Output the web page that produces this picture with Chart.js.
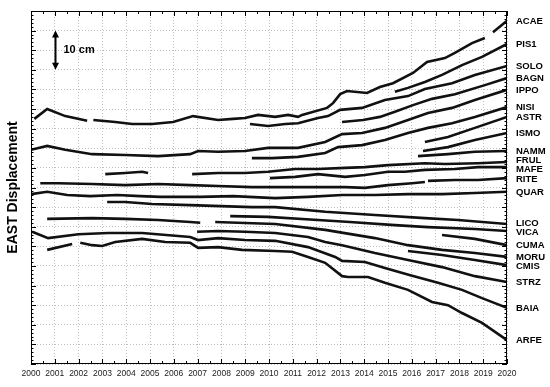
<!DOCTYPE html>
<html>
<head>
<meta charset="utf-8">
<script src="https://cdn.jsdelivr.net/npm/chart.js@4.4.1/dist/chart.umd.min.js"></script>
<style>
  html, body { margin: 0; padding: 0; background: #fff; }
</style>
</head>
<body>
<canvas id="chart" width="550" height="387"></canvas>
<script>
// East displacement time series (cm, stacked with offsets)
// each point is [decimal year, cm]; a null value marks a data gap
const ACAE = [[2000.14,62.5],[2000.68,65.0],[2001.44,63.2],[2002.36,62.0],[2002.45,null],[2002.62,62.2],[2003.54,61.7],[2004.25,61.2],[2005.09,61.2],[2005.97,61.7],[2006.81,63.2],[2007.86,62.2],[2008.49,62.5],[2008.99,62.7],[2009.54,63.5],[2010.26,63.0],[2010.80,63.5],[2011.22,63.0],[2011.39,63.5],[2012.44,65.3],[2012.69,66.5],[2012.99,68.8],[2013.28,69.6],[2014.12,69.1],[2014.66,70.6],[2015.21,71.6],[2016.05,74.2],[2016.64,77.0],[2017.39,78.0],[2017.81,79.3],[2018.53,81.8],[2019.07,83.1],[2019.2,null],[2019.41,84.6],[2020,87.5]]
const PIS1 = [[2015.29,69.4],[2015.84,70.4],[2016.55,71.9],[2017.27,73.7],[2018.11,76.2],[2018.95,78.3],[2020,81.6]]
const SOLO = [[2009.20,61.2],[2009.96,60.7],[2010.68,61.2],[2011.22,61.4],[2012.06,62.7],[2012.48,63.2],[2012.99,64.8],[2013.91,65.3],[2014.87,67.3],[2015.84,68.3],[2016.55,70.1],[2017.69,71.6],[2018.65,73.7],[2020,76.0]]
const BAGN = [[2013.07,61.7],[2013.95,62.2],[2014.66,63.0],[2015.29,64.3],[2016.05,66.0],[2016.85,67.6],[2017.81,68.8],[2019.07,71.1],[2020,72.9]]
const IPPO = [[2000.0,54.6],[2000.68,55.6],[2001.44,54.6],[2002.57,53.5],[2003.96,53.3],[2005.34,53.0],[2006.69,53.5],[2007.02,54.3],[2007.86,54.1],[2008.99,54.3],[2009.96,55.1],[2011.22,55.1],[2012.36,56.6],[2013.07,58.6],[2013.91,58.9],[2014.87,60.2],[2015.84,62.2],[2016.68,64.0],[2017.69,65.3],[2018.65,67.3],[2020,69.9]]
const NISI = [[2009.28,52.5],[2010.13,52.5],[2011.22,52.8],[2012.36,53.8],[2012.90,55.3],[2013.91,55.8],[2014.87,57.1],[2015.84,58.9],[2016.68,60.2],[2017.69,61.4],[2018.65,63.0],[2020,65.5]]
const ASTR = [[2016.55,56.6],[2017.52,57.9],[2018.65,60.2],[2020,63.0]]
const ISMO = [[2016.47,54.3],[2017.52,55.3],[2018.65,57.1],[2020,58.9]]
const NAMM = [[2016.26,53.0],[2017.52,53.5],[2018.65,54.1],[2020,54.3]]
const FRUL = [[2003.12,48.4],[2003.96,48.7],[2004.67,49.0],[2004.92,48.7],[2005.5,null],[2006.77,48.4],[2007.86,48.7],[2008.99,48.7],[2009.96,49.0],[2011.10,49.7],[2012.06,49.7],[2013.20,50.0],[2014.03,50.2],[2015.0,50.7],[2016.55,51.2],[2017.39,51.0],[2018.78,51.2],[2020,51.5]]
const MAFE = [[2010.04,47.4],[2011.10,47.7],[2012.06,48.4],[2013.20,47.7],[2014.03,48.2],[2015.0,49.0],[2015.71,49.0],[2016.55,49.5],[2017.81,49.7],[2018.78,50.2],[2020,50.2]]
const RITE = [[2000.39,46.1],[2001.15,46.1],[2002.57,45.9],[2003.96,45.6],[2005.34,45.9],[2006.69,45.6],[2007.86,45.4],[2009.28,45.1],[2010.68,45.1],[2013.20,45.1],[2014.03,44.9],[2015.0,45.6],[2016.01,46.1],[2016.55,46.4],[2016.6,null],[2016.68,46.7],[2017.81,46.9],[2018.78,46.9],[2020,47.4]]
const QUAR = [[2000,43.3],[2000.68,43.9],[2001.52,43.1],[2002.49,42.8],[2003.62,43.1],[2004.59,42.8],[2005.43,42.6],[2007.11,42.6],[2008.49,42.8],[2010.26,42.3],[2011.64,42.6],[2013.07,43.1],[2014.45,43.1],[2015.84,43.3],[2017.27,43.3],[2018.65,43.6],[2020,43.9]]
const LICO = [[2003.20,41.3],[2003.96,41.3],[2005.09,40.8],[2006.69,40.5],[2009.28,40.0],[2010.26,40.0],[2012.36,38.8],[2014.45,38.0],[2016.55,37.2],[2017.94,36.7],[2020,35.7]]
const VICA = [[2008.37,37.7],[2009.96,37.5],[2012.06,36.7],[2013.40,36.2],[2015.29,35.4],[2016.68,34.9],[2018.65,34.4],[2020,33.9]]
const CUMA = [[2017.27,32.9],[2018.65,31.9],[2020,30.3]]
const MORU = [[2000.68,37.0],[2002.57,37.2],[2003.96,37.0],[2005.34,36.7],[2006.69,36.2],[2007.11,36.0],[2007.4,null],[2007.74,36.2],[2010.26,35.7],[2012.36,34.2],[2014.45,32.1],[2015.84,30.3],[2017.27,29.1],[2018.65,28.3],[2020,27.3]]
const CMIS = [[2015.84,28.8],[2017.27,27.8],[2018.65,26.5],[2020,25.2]]
const STRZ = [[2006.98,33.7],[2007.86,33.9],[2008.99,33.7],[2010.26,33.4],[2011.64,32.4],[2012.36,31.1],[2013.07,30.3],[2014.45,28.3],[2015.84,26.5],[2017.27,24.7],[2018.65,22.4],[2020,20.9]]
const BAIA = [[2000.05,33.7],[2000.72,32.1],[2001.99,33.1],[2003.25,33.4],[2004.67,33.4],[2006.69,32.4],[2007.02,31.6],[2007.86,32.1],[2008.99,31.6],[2010.26,31.4],[2011.64,29.8],[2012.78,27.3],[2013.07,26.3],[2014.03,26.0],[2014.87,24.5],[2015.9,22.7],[2017.10,20.7],[2018.11,18.9],[2018.95,16.8],[2020,14.3]]
const ARFE = [[2000.68,29.1],[2001.73,30.6],[2001.9,null],[2002.07,30.9],[2002.57,30.3],[2002.99,30.1],[2003.54,31.1],[2004.67,31.9],[2005.64,31.1],[2006.69,30.9],[2007.02,29.6],[2007.86,29.8],[2008.87,29.1],[2010.26,28.8],[2010.97,28.6],[2011.64,27.3],[2012.36,25.8],[2013.07,22.4],[2013.32,22.2],[2014.16,22.2],[2014.87,20.7],[2015.84,18.9],[2016.85,15.8],[2017.52,15.0],[2018.11,13.0],[2018.95,10.5],[2020,6.1]]

const stations = ['ACAE', 'PIS1', 'SOLO', 'BAGN', 'IPPO', 'NISI', 'ASTR', 'ISMO', 'NAMM', 'FRUL', 'MAFE',
  'RITE', 'QUAR', 'LICO', 'VICA', 'CUMA', 'MORU', 'CMIS', 'STRZ', 'BAIA', 'ARFE']
const stationSeries = [ACAE, PIS1, SOLO, BAGN, IPPO, NISI, ASTR, ISMO, NAMM, FRUL, MAFE,
  RITE, QUAR, LICO, VICA, CUMA, MORU, CMIS, STRZ, BAIA, ARFE]

const yearTicks = [2000, 2001, 2002, 2003, 2004, 2005, 2006, 2007, 2008, 2009, 2010,
  2011, 2012, 2013, 2014, 2015, 2016, 2017, 2018, 2019, 2020]
const gridCm = [0, 5, 10, 15, 20, 25, 30, 35, 40, 45, 50, 55, 60, 65, 70, 75, 80, 85, 90]
const scaleBarCm = [75, 85]  // the "10 cm" reference arrow
const scaleBarYear = 2001

const FONT = '"Liberation Sans", Arial, sans-serif'

// box with inward major/minor ticks on all four sides
const frame = {
  id: 'frame',
  afterDraw(chart) {
    const { ctx, chartArea: a, scales: { x, y } } = chart
    ctx.save()
    ctx.strokeStyle = '#000'
    ctx.lineWidth = 1
    ctx.strokeRect(a.left + 0.5, a.top + 0.5, a.right - a.left - 1, a.bottom - a.top - 1)
    ctx.beginPath()
    for (let t = x.min; t <= x.max; t += 0.5) {
      const px = Math.round(x.getPixelForValue(t)) + 0.5
      const len = t % 1 === 0 ? 5 : 3
      ctx.moveTo(px, a.bottom); ctx.lineTo(px, a.bottom - len)
      ctx.moveTo(px, a.top); ctx.lineTo(px, a.top + len)
    }
    for (let v = y.min; v <= y.max; v += 1) {
      const py = Math.round(y.getPixelForValue(v)) + 0.5
      const len = v % 5 === 0 ? 5 : 2.5
      ctx.moveTo(a.left, py); ctx.lineTo(a.left + len, py)
      ctx.moveTo(a.right, py); ctx.lineTo(a.right - len, py)
    }
    ctx.stroke()
    ctx.restore()
  }
}

// "10 cm" double arrow
const scaleBar = {
  id: 'scaleBar',
  afterDraw(chart) {
    const { ctx, scales: { x, y } } = chart
    const px = Math.round(x.getPixelForValue(scaleBarYear)) + 0.5
    const top = y.getPixelForValue(scaleBarCm[1])
    const bot = y.getPixelForValue(scaleBarCm[0])
    ctx.save()
    ctx.strokeStyle = '#000'
    ctx.fillStyle = '#000'
    ctx.lineWidth = 2
    ctx.beginPath()
    ctx.moveTo(px, top + 5); ctx.lineTo(px, bot - 5)
    ctx.stroke()
    ctx.beginPath()
    ctx.moveTo(px, top); ctx.lineTo(px - 3.5, top + 7); ctx.lineTo(px + 3.5, top + 7); ctx.closePath()
    ctx.moveTo(px, bot); ctx.lineTo(px - 3.5, bot - 7); ctx.lineTo(px + 3.5, bot - 7); ctx.closePath()
    ctx.fill()
    ctx.font = 'bold 11px ' + FONT
    ctx.textBaseline = 'middle'
    ctx.fillText('10 cm', px + 8, (top + bot) / 2)
    ctx.restore()
  }
}

// station names next to the series ends, nudged apart where they crowd
const stationLabels = {
  id: 'stationLabels',
  afterDraw(chart) {
    const { ctx, chartArea: a, scales: { y } } = chart
    const minGap = 2.35
    const items = chart.data.datasets.map(ds => {
      const pts = ds.data.filter(p => p.y !== null)
      return { text: ds.label, v: pts[pts.length - 1].y }
    }).sort((p, q) => q.v - p.v)
    for (let pass = 0; pass < 40; pass++) {
      for (let i = 0; i < items.length - 1; i++) {
        const d = items[i].v - items[i + 1].v
        if (d < minGap) {
          const s = (minGap - d) / 2
          items[i].v += s
          items[i + 1].v -= s
        }
      }
    }
    ctx.save()
    ctx.font = 'bold 9.5px ' + FONT
    ctx.fillStyle = '#000'
    ctx.textBaseline = 'middle'
    items.forEach(it => ctx.fillText(it.text, a.right + 9, y.getPixelForValue(it.v) + 0.5))
    ctx.restore()
  }
}

const datasets = stations.map((name, i) => ({
  label: name,
  data: stationSeries[i].map(([x, y]) => ({ x, y })),
  borderColor: '#111',
  borderWidth: 2.6,
  pointRadius: 0,
  tension: 0,
  spanGaps: false,
  fill: false
}))

new Chart(document.getElementById('chart'), {
  type: 'line',
  data: { datasets },
  options: {
    responsive: false,
    animation: false,
    events: [],
    layout: { padding: { top: 11, right: 43, left: 0, bottom: 0 } },
    plugins: {
      legend: { display: false },
      tooltip: { enabled: false }
    },
    scales: {
      x: {
        type: 'linear',
        min: 2000,
        max: 2020,
        afterBuildTicks: s => { s.ticks = yearTicks.map(v => ({ value: v })) },
        afterFit: s => { s.height = 23 },
        ticks: {
          callback: v => String(v),
          color: '#222',
          padding: 5,
          maxRotation: 0,
          autoSkip: false,
          font: { family: FONT, size: 8.5 }
        },
        grid: { color: 'rgba(0,0,0,0.25)', lineWidth: 1, drawTicks: false },
        border: { display: false, dash: [1, 2] }
      },
      y: {
        type: 'linear',
        min: 0,
        max: 90,
        afterBuildTicks: s => { s.ticks = gridCm.map(v => ({ value: v })) },
        afterFit: s => { s.width = 31 },
        ticks: { display: false },
        grid: { color: 'rgba(0,0,0,0.25)', lineWidth: 1, drawTicks: false },
        border: { display: false, dash: [1, 2] },
        title: {
          display: true,
          text: 'EAST Displacement',
          color: '#000',
          padding: { top: 5, bottom: 0 },
          font: { family: FONT, size: 14, weight: 'bold' }
        }
      }
    }
  },
  plugins: [frame, scaleBar, stationLabels]
})
</script>
</body>
</html>
